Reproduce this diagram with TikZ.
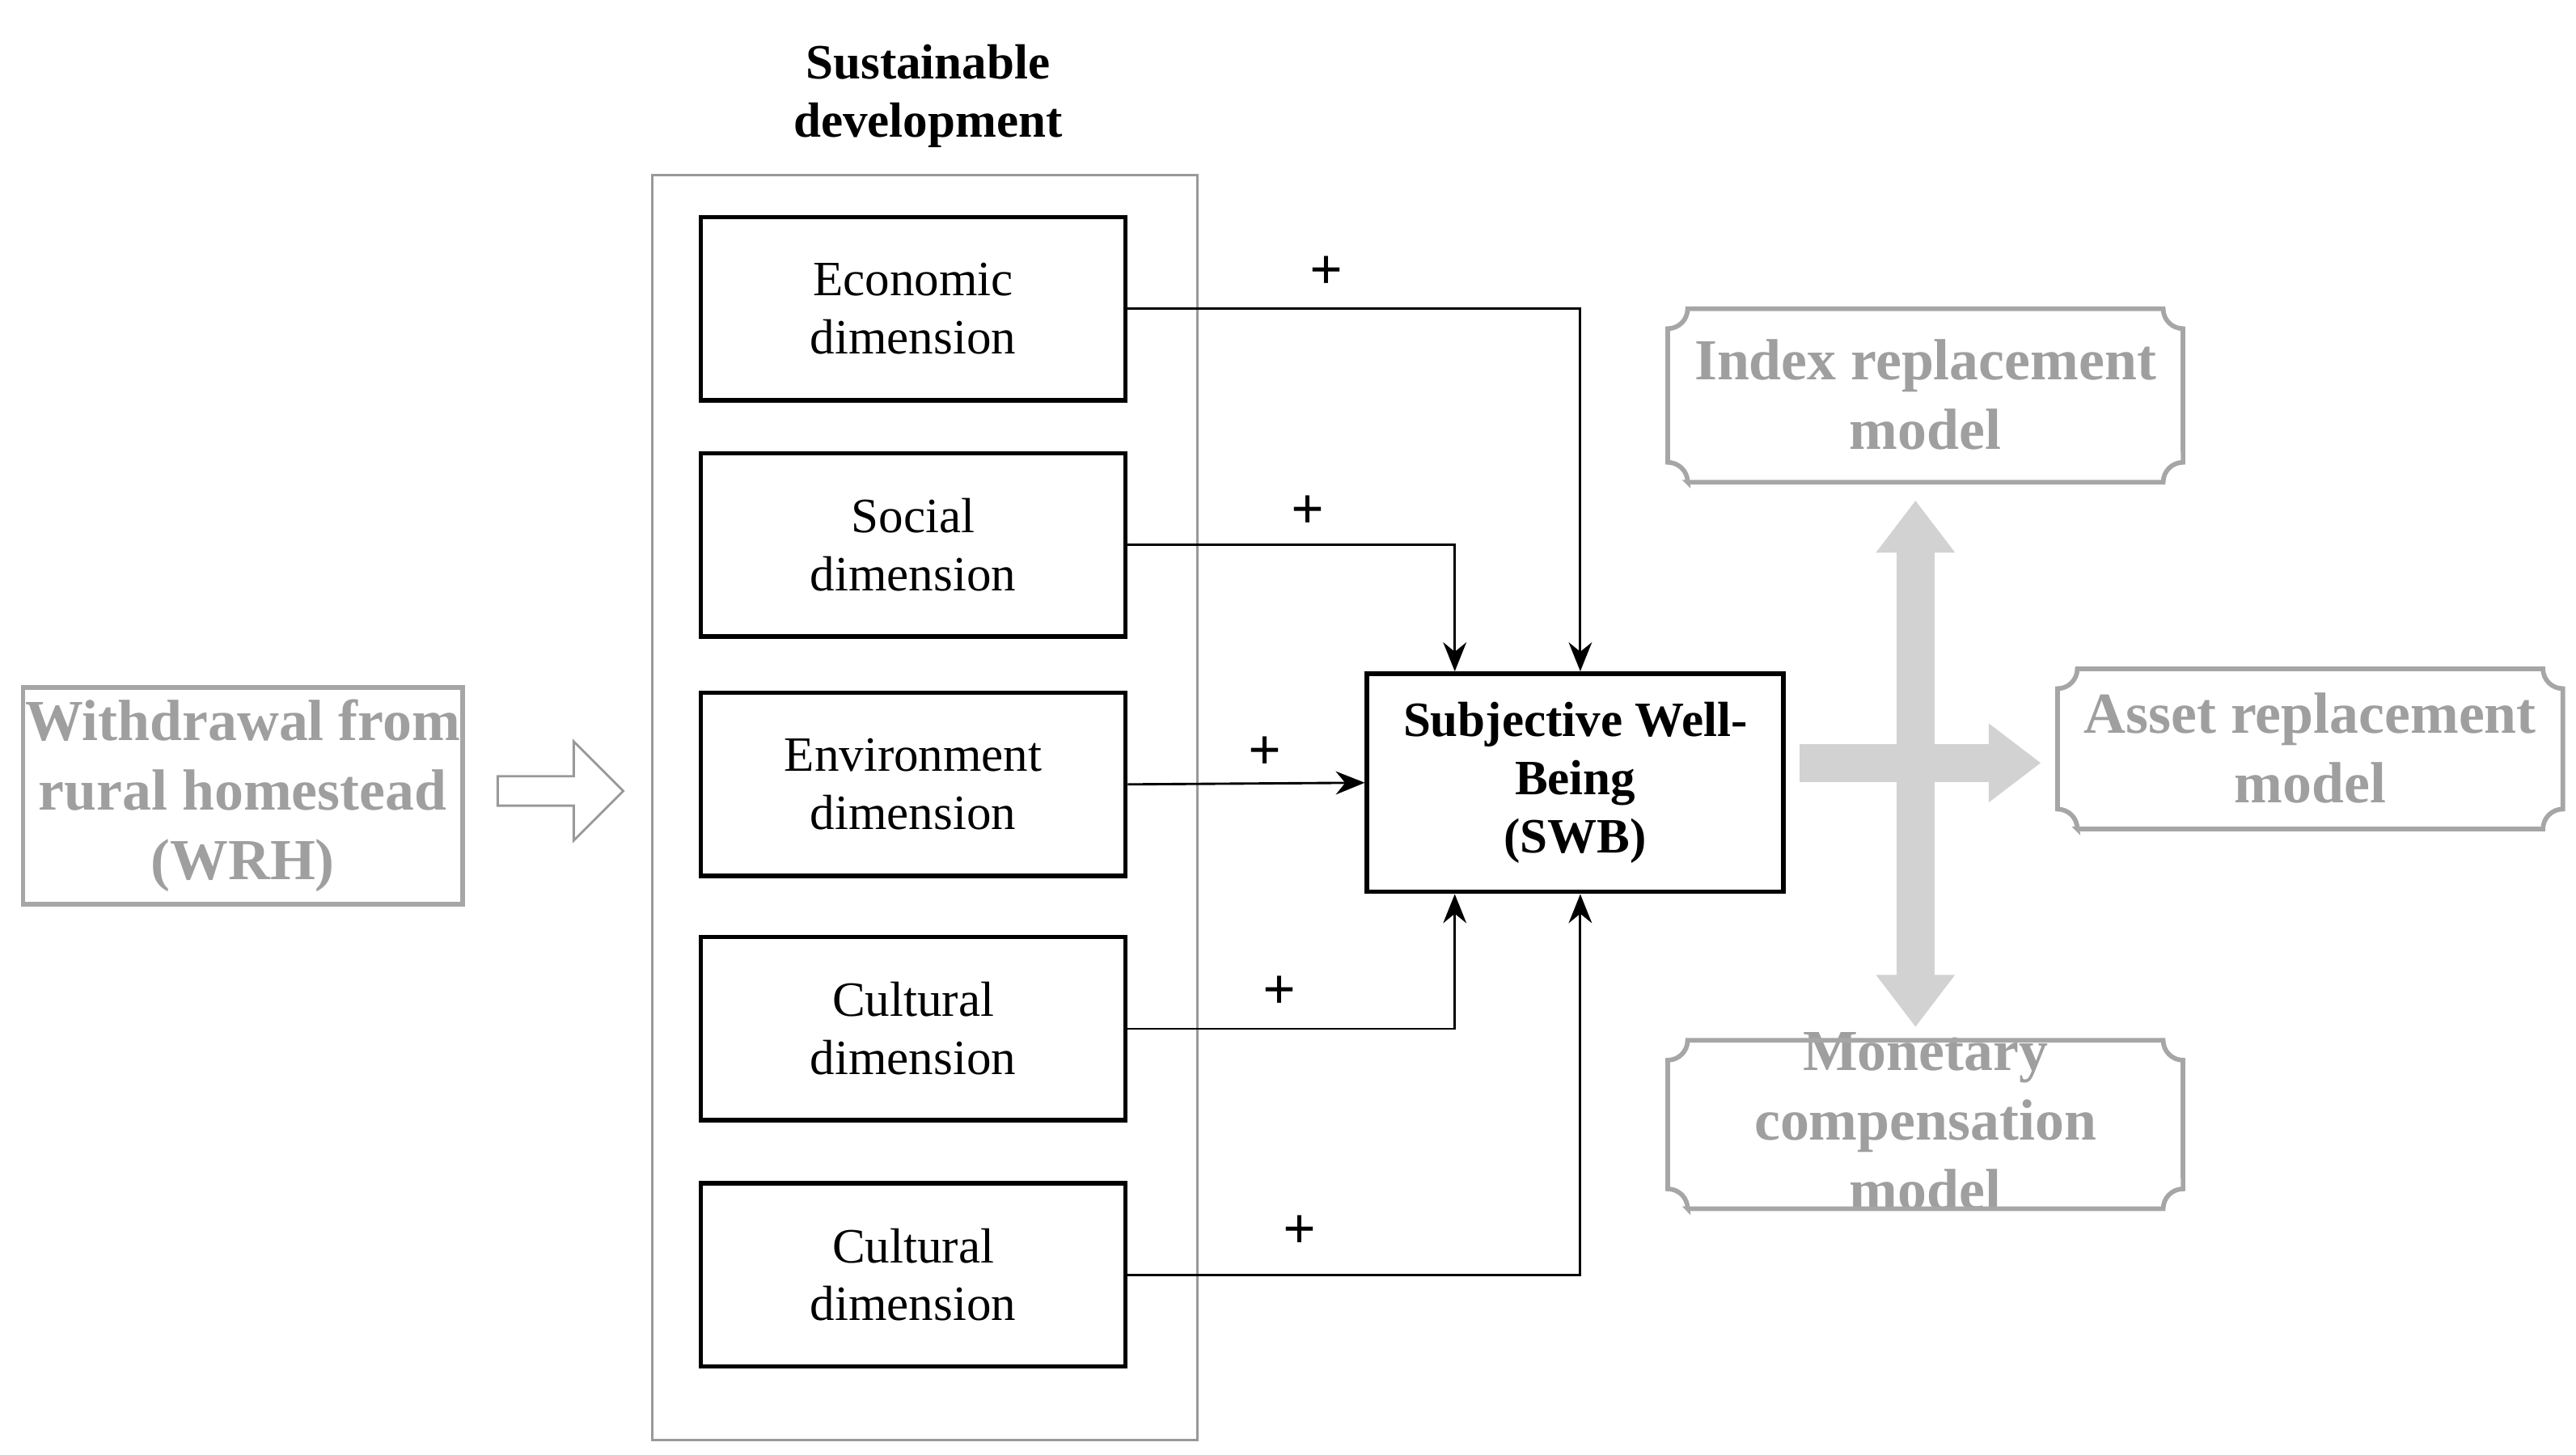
\documentclass[tikz,border=0pt]{standalone}
\usepackage{fontspec}
\setmainfont{Liberation Serif}
\usetikzlibrary{positioning,arrows.meta,shapes.arrows}

\tikzset{
  dim/.style={draw, thick, minimum width=2.57cm, minimum height=1.11cm, align=center, inner sep=0pt},
  grey/.style={text=gray!75, font=\bfseries, align=center},
  link/.style={-{Stealth[length=5pt,width=4pt]}, thin},
  plus/.style={font=\bfseries},
  fat/.style={line width=6.5pt, gray!35},
}
% notched frame around a given box
\newcommand{\notchbox}[4]{%
  \draw[gray!70, thick] (#1+12,#2) -- (#3-12,#2)
    arc[start angle=180,end angle=90,radius=0.12cm] -- (#3,#4-12)
    arc[start angle=270,end angle=180,radius=0.12cm] -- (#1+12,#4)
    arc[start angle=0,end angle=-90,radius=0.12cm] -- (#1,#2+12)
    arc[start angle=90,end angle=0,radius=0.12cm] -- cycle;}

\begin{document}
\begin{tikzpicture}[x=0.01cm, y=0.01cm, font=\fontsize{8.5}{10}\selectfont]
  \useasboundingbox (0,0) rectangle (1560,-881);

  % sustainable development frame
  \draw[gray!80] (395,-106) rectangle (725,-872);
  \node[font=\fontsize{8.5}{10}\selectfont\bfseries, align=center] (sd) at (562,-58) {Sustainable\\development};

  \node[dim] (eco) at (553,-187) {Economic\\dimension};
  \node[dim] (soc) at (553,-330) {Social\\dimension};
  \node[dim] (env) at (553,-475) {Environment\\dimension};
  \node[dim] (cul) at (553,-623) {Cultural\\dimension};
  \node[dim] (cult) at (553,-772) {Cultural\\dimension};

  \node[draw, thick, minimum width=2.52cm, minimum height=1.32cm, align=center, inner sep=0pt,
        font=\fontsize{8.5}{10}\selectfont\bfseries] (swb) at (954,-474) {Subjective Well-\\Being\\(SWB)};

  % withdrawal
  \node[draw=gray!70, thick, grey, minimum width=2.66cm, minimum height=1.31cm, inner sep=0pt] (wrh) at (147,-482) {Withdrawal from\\rural homestead\\(WRH)};
  \node[single arrow, draw=gray!80, minimum height=0.76cm, minimum width=0.6cm,
        single arrow head extend=0.1cm, inner sep=1pt] (in) at (335,-479) {};

  % paths to SWB
  \coordinate (a) at (957,-187);
  \coordinate (b) at (881,-330);
  \coordinate (c) at (881,-623);
  \coordinate (d) at (957,-772);
  \draw[link] (eco.east) -- (a) -- (swb.north -| a);
  \draw[link] (soc.east) -- (b) -- (swb.north -| b);
  \draw[link] (env.east) -- (swb.west);
  \draw[link] (cul.east) -- (c) -- (swb.south -| c);
  \draw[link] (cult.east) -- (d) -- (swb.south -| d);

  \node[plus] at (803,-165) {+};
  \node[plus] at (792,-310) {+};
  \node[plus] at (766,-456) {+};
  \node[plus] at (775,-601) {+};
  \node[plus] at (787,-746) {+};

  % models
  \node[grey] (idx) at (1166,-239) {Index replacement\\model};
  \notchbox{1010}{-292}{1322}{-187}
  \node[grey] (ast) at (1399,-453) {Asset replacement\\model};
  \notchbox{1246}{-502}{1552}{-405}
  \node[grey] (mon) at (1166,-679) {Monetary\\compensation\\model};
  \notchbox{1010}{-732}{1322}{-630}

  \coordinate (top) at (1160,-303);
  \coordinate (bot) at (1160,-622);
  \coordinate (lft) at (1090,-462);
  \coordinate (rgt) at (1236,-462);
  \draw[fat, {Triangle[length=9pt,width=13pt]}-{Triangle[length=9pt,width=13pt]}] (top) -- (bot);
  \draw[fat, -{Triangle[length=9pt,width=13pt]}] (lft) -- (rgt);
\end{tikzpicture}
\end{document}
